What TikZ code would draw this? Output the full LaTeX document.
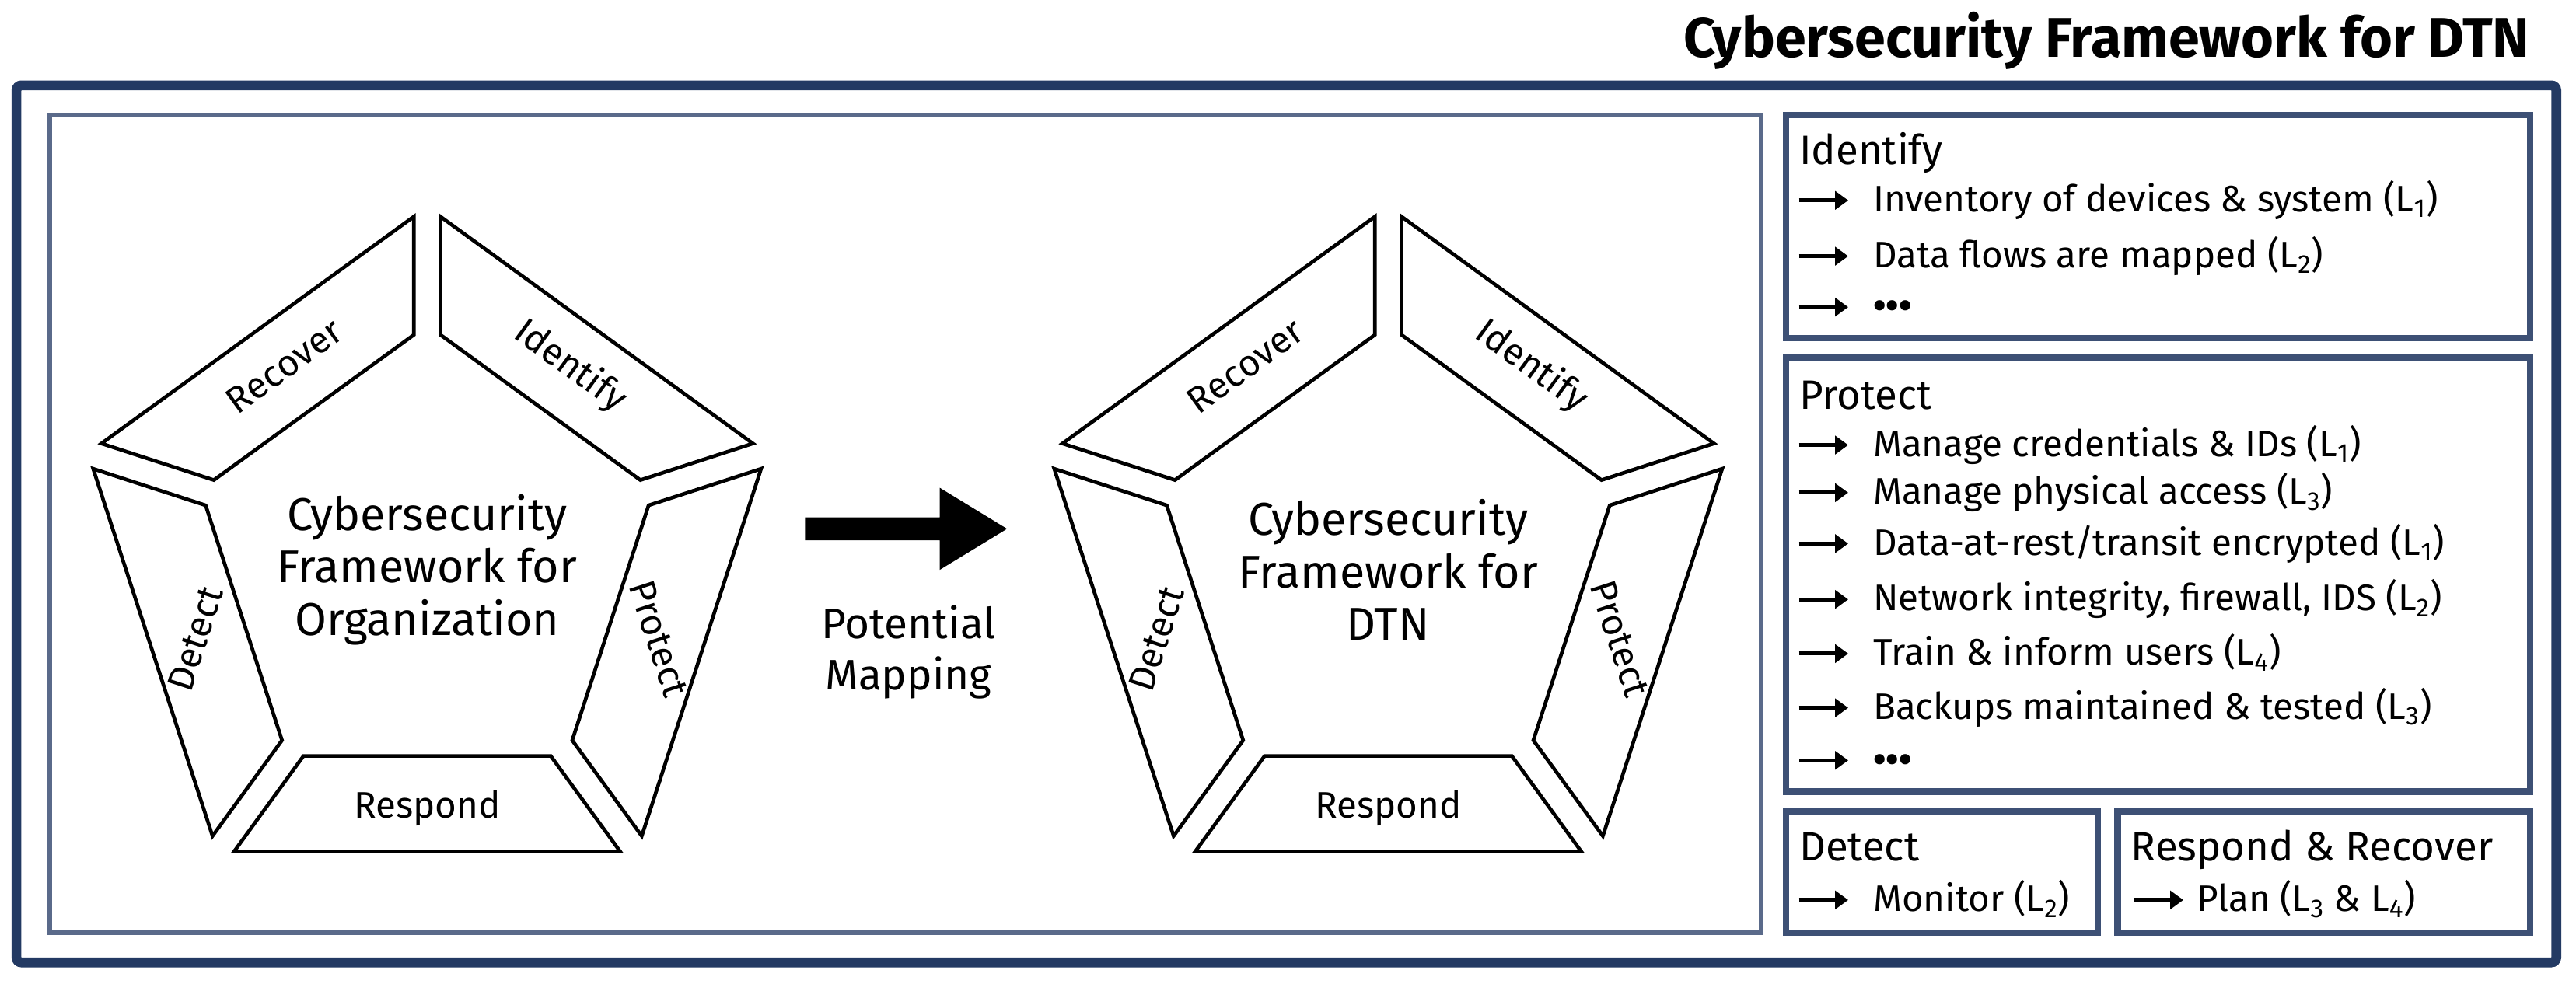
\documentclass[tikz,border=0pt]{standalone}
\usepackage{fontspec}
\setmainfont{Fira Sans}
\usetikzlibrary{calc,arrows.meta}
\definecolor{navy}{HTML}{233A63}
\definecolor{boxblue}{HTML}{3D5075}
\definecolor{panel}{HTML}{5A6A8A}
\begin{document}
\begin{tikzpicture}[x=1pt,y=-1pt,
  seg/.style={draw=black,line width=2.2pt,line join=miter,fill=white},
  lab/.style={font=\fontsize{22.5}{24}\selectfont,inner sep=1pt},
  ctr/.style={font=\fontsize{28}{32}\selectfont,align=center},
  head/.style={font=\fontsize{25}{28}\selectfont,anchor=base west,inner sep=0},
  item/.style={font=\fontsize{22.5}{25}\selectfont,anchor=base west,inner sep=0},
  larr/.style={line width=2.4pt,-{Triangle[length=8pt,width=11pt]}}]
\useasboundingbox (0,0) rectangle (1568,599);
\node[anchor=base east,font=\bfseries\fontsize{34}{38}\selectfont,inner sep=0] (title) at (1540,35) {Cybersecurity Framework for DTN};
\draw[navy,line width=6pt,rounded corners=3pt] (10,52) rectangle (1556,586);
\draw[panel,line width=3pt] (30,70) rectangle (1072,568);
\tikzset{box/.style={draw=boxblue,line width=4pt}}
\draw[box] (1087,70) rectangle (1540,206);
\draw[box] (1087,218) rectangle (1540,482);
\draw[box] (1087,494) rectangle (1277,568);
\draw[box] (1289,494) rectangle (1540,568);
% pentagons
\def\R{217}\def\Ri{145}\def\d{10}
\foreach \cx/\nm/\txt in {260/A/{Cybersecurity\\Framework for\\Organization},845/B/{Cybersecurity\\Framework for\\DTN}}{
  \coordinate (O\nm) at (\cx,343);
  \foreach \a/\b in {90/162,18/90,-54/18,-126/-54,162/234}{
    \coordinate (P1) at ($(O\nm)+(-\a:\R)$);
    \coordinate (P2) at ($(O\nm)+(-\b:\R)$);
    \coordinate (Q1) at ($(O\nm)+(-\a:\Ri)$);
    \coordinate (Q2) at ($(O\nm)+(-\b:\Ri)$);
    \path[seg] ($(P1)!\d pt!(P2)$) -- ($(P2)!\d pt!(P1)$) -- ($(Q2)!\d pt!(Q1)$) -- ($(Q1)!\d pt!(Q2)$) -- cycle;
  }
  \node[ctr] (c\nm) at ($(O\nm)+(0,4)$) {\txt};
}
\foreach \cx/\nm in {260/A,845/B}{
  \node[lab,rotate=36]  (r\nm) at ($(\cx,343)+(-87,-120)$) {Recover};
  \node[lab,rotate=-36] (i\nm) at ($(\cx,343)+(87,-120)$) {Identify};
  \node[lab,rotate=-72] (p\nm) at ($(\cx,343)+(141,46)$) {Protect};
  \node[lab]            (s\nm) at ($(\cx,343)+(0,149)$) {Respond};
  \node[lab,rotate=72]  (d\nm) at ($(\cx,343)+(-141,46)$) {Detect};
}
\fill[black] (490,315) -- (572,315) -- (572,297) -- (613,322) -- (572,347) -- (572,329) -- (490,329) -- cycle;
\node[ctr,font=\fontsize{26}{31}\selectfont] (map) at (553,397) {Potential\\Mapping};
% right lists
\node[head] (hI) at (1095,100) {Identify};
\foreach \y/\t/\n in {129/{Inventory of devices \& system (L\textsubscript{1})}/1,163/{Data flows are mapped (L\textsubscript{2})}/2,194/{\textbf{•••}}/3}{
  \coordinate (aI\n) at (1095,\y-7);
  \draw[larr] (aI\n) -- ++(30,0);
  \node[item] (tI\n) at (1140,\y) {\t};
}
\node[head] (hP) at (1095,249) {Protect};
\foreach \y/\t/\n in {278/{Manage credentials \& IDs (L\textsubscript{1})}/1,307/{Manage physical access (L\textsubscript{3})}/2,338/{Data-at-rest/transit encrypted (L\textsubscript{1})}/3,372/{Network integrity, firewall, IDS (L\textsubscript{2})}/4,405/{Train \& inform users (L\textsubscript{4})}/5,438/{Backups maintained \& tested (L\textsubscript{3})}/6,470/{\textbf{•••}}/7}{
  \coordinate (aP\n) at (1095,\y-7);
  \draw[larr] (aP\n) -- ++(30,0);
  \node[item] (tP\n) at (1140,\y) {\t};
}
\node[head] (hD) at (1095,524) {Detect};
\coordinate (aD) at (1095,548);
\draw[larr] (aD) -- ++(30,0);
\node[item] (tD) at (1140,555) {Monitor (L\textsubscript{2})};
\node[head] (hR) at (1297,524) {Respond \& Recover};
\coordinate (aR) at (1299,548);
\draw[larr] (aR) -- ++(30,0);
\node[item] (tR) at (1337,555) {Plan (L\textsubscript{3} \& L\textsubscript{4})};
\end{tikzpicture}
\end{document}
